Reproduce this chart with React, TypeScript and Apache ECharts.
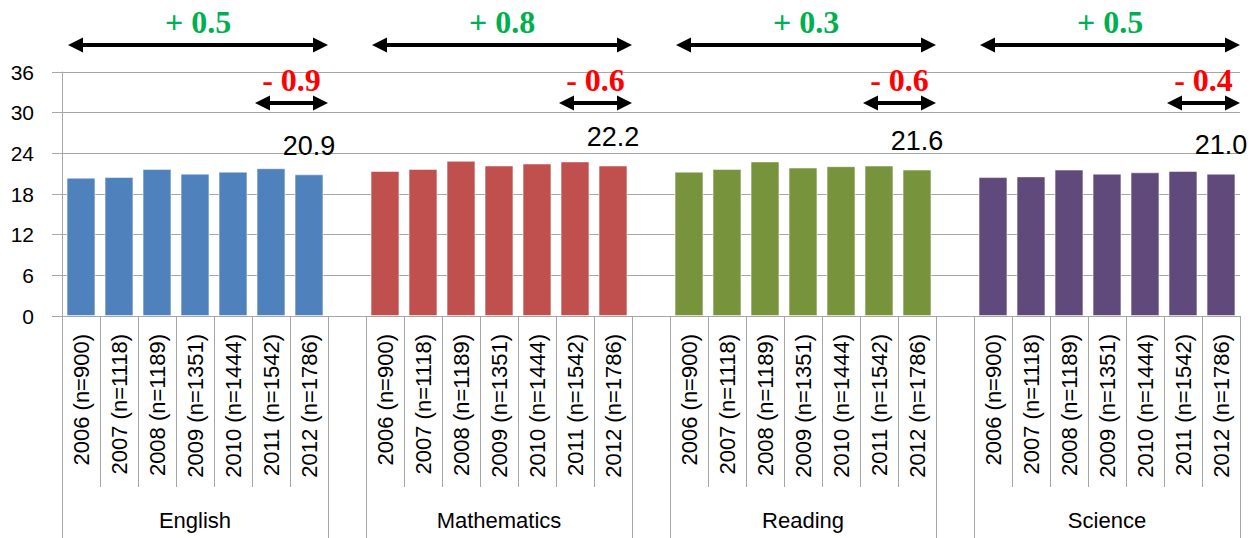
import React, { useEffect, useRef } from "react";
import * as echarts from "echarts";

const subjects = ["English", "Mathematics", "Reading", "Science"];
const yearLabels = [
  "2006 (n=900)",
  "2007 (n=1118)",
  "2008 (n=1189)",
  "2009 (n=1351)",
  "2010 (n=1444)",
  "2011 (n=1542)",
  "2012 (n=1786)",
];
const english = [20.4, 20.5, 21.7, 21.0, 21.3, 21.8, 20.9];
const mathematics = [21.4, 21.7, 22.9, 22.2, 22.5, 22.8, 22.2];
const reading = [21.3, 21.7, 22.8, 21.9, 22.1, 22.2, 21.6];
const science = [20.5, 20.6, 21.6, 21.0, 21.2, 21.4, 21.0];
const colors = ["#4F81BD", "#C0504D", "#77933C", "#604A7B"];
const longChange = ["+ 0.5", "+ 0.8", "+ 0.3", "+ 0.5"];
const shortChange = ["- 0.9", "- 0.6", "- 0.6", "- 0.4"];
const yTicks = { min: 0, max: 36, interval: 6 };

const allValues = [english, mathematics, reading, science];
const perGroup = yearLabels.length + 1; // 7 years + gap slot

const categories: string[] = [];
subjects.forEach((_, g) => {
  yearLabels.forEach((l) => categories.push(l));
  if (g < subjects.length - 1) categories.push("");
});

export default function App() {
  const ref = useRef<HTMLDivElement>(null);
  useEffect(() => {
    if (!ref.current) return;
    const chart = echarts.init(ref.current, undefined, { renderer: "svg" });
    const series = allValues.map((vals, g) => {
      const data: any[] = categories.map(() => null);
      vals.forEach((v, i) => {
        const idx = g * perGroup + i;
        if (i === vals.length - 1) {
          data[idx] = {
            value: v,
            label: {
              show: true,
              position: "top",
              distance: 15,
              formatter: (p: any) => Number(p.value).toFixed(1),
              fontSize: 27,
              color: "#000",
              fontFamily: "Liberation Sans",
            },
          };
        } else data[idx] = v;
      });
      return {
        type: "bar",
        name: subjects[g],
        data,
        barGap: "-100%",
        barCategoryGap: "24%",
        itemStyle: { color: colors[g], borderColor: "rgba(255,255,255,0.5)", borderWidth: 1 },
      };
    });
    chart.setOption({
      animation: false,
      grid: { left: 62, right: 15, top: 72, bottom: 222, containLabel: false },
      xAxis: {
        type: "category",
        data: categories,
        axisLine: { lineStyle: { color: "#A6A6A6", width: 1 } },
        axisTick: { show: false },
        axisLabel: {
          interval: 0,
          rotate: 90,
          margin: 18,
          fontSize: 22,
          color: "#000",
          fontFamily: "Liberation Sans",
        },
      },
      yAxis: {
        type: "value",
        min: yTicks.min,
        max: yTicks.max,
        interval: yTicks.interval,
        axisLine: { show: true, lineStyle: { color: "#A6A6A6" } },
        axisTick: { show: true, length: 10, lineStyle: { color: "#A6A6A6" } },
        splitLine: { lineStyle: { color: "#A6A6A6", width: 1 } },
        axisLabel: { fontSize: 21, color: "#000", margin: 28, fontFamily: "Liberation Sans" },
      },
      series,
    });

    const px = (i: number) => chart.convertToPixel({ xAxisIndex: 0 }, i) as number;
    const py = (v: number) => chart.convertToPixel({ yAxisIndex: 0 }, v) as number;
    const bw = px(1) - px(0);
    const y0 = py(0);
    const H = 538;
    const gray = "#A6A6A6";
    const elements: any[] = [];
    // boundary lines
    for (let k = 0; k <= categories.length; k++) {
      const x = Math.round(px(0) - bw / 2 + k * bw) + 0.5;
      const inGroup = k % perGroup;
      const isLong = inGroup === 0 || inGroup === perGroup - 1 || k === categories.length;
      elements.push({
        type: "line",
        shape: { x1: x, y1: y0, x2: x, y2: isLong ? H : y0 + 171 },
        style: { stroke: gray, lineWidth: 1 },
        silent: true,
      });
    }
    const arrow = (xa: number, xb: number, y: number, head: number, half: number, lw: number) => {
      elements.push({
        type: "line",
        shape: { x1: xa + head - 2, y1: y, x2: xb - head + 2, y2: y },
        style: { stroke: "#000", lineWidth: lw },
      });
      elements.push({
        type: "polygon",
        shape: { points: [[xa, y], [xa + head, y - half], [xa + head, y + half]] },
        style: { fill: "#000" },
      });
      elements.push({
        type: "polygon",
        shape: { points: [[xb, y], [xb - head, y - half], [xb - head, y + half]] },
        style: { fill: "#000" },
      });
    };
    subjects.forEach((name, g) => {
      const start = g * perGroup;
      const gx0 = px(start) - bw / 2;
      const gx1 = px(start + yearLabels.length - 1) + bw / 2;
      const sx0 = px(start + yearLabels.length - 2) - bw / 2 + 3;
      // group label
      elements.push({
        type: "text",
        x: (gx0 + gx1) / 2,
        y: 520,
        style: {
          text: name,
          fontSize: 22,
          fontFamily: "Liberation Sans",
          fill: "#000",
          align: "center",
          verticalAlign: "middle",
        },
      });
      arrow(gx0 + 6, gx1, 45, 15, 7.5, 4);
      arrow(sx0, gx1, 103, 15, 7.5, 4);
      elements.push({
        type: "text",
        x: (gx0 + 6 + gx1) / 2,
        y: 22,
        style: {
          text: longChange[g],
          fontSize: 32,
          fontWeight: "bold",
          fontFamily: "Liberation Serif",
          fill: "#00B050",
          align: "center",
          verticalAlign: "middle",
        },
      });
      elements.push({
        type: "text",
        x: (sx0 + gx1) / 2,
        y: 80,
        style: {
          text: shortChange[g],
          fontSize: 32,
          fontWeight: "bold",
          fontFamily: "Liberation Serif",
          fill: "#FF0000",
          align: "center",
          verticalAlign: "middle",
        },
      });
    });
    chart.setOption({ graphic: { elements } });
    return () => chart.dispose();
  }, []);
  return <div ref={ref} style={{ width: 1255, height: 538, position: "absolute", left: 0, top: 0 }} />;
}
